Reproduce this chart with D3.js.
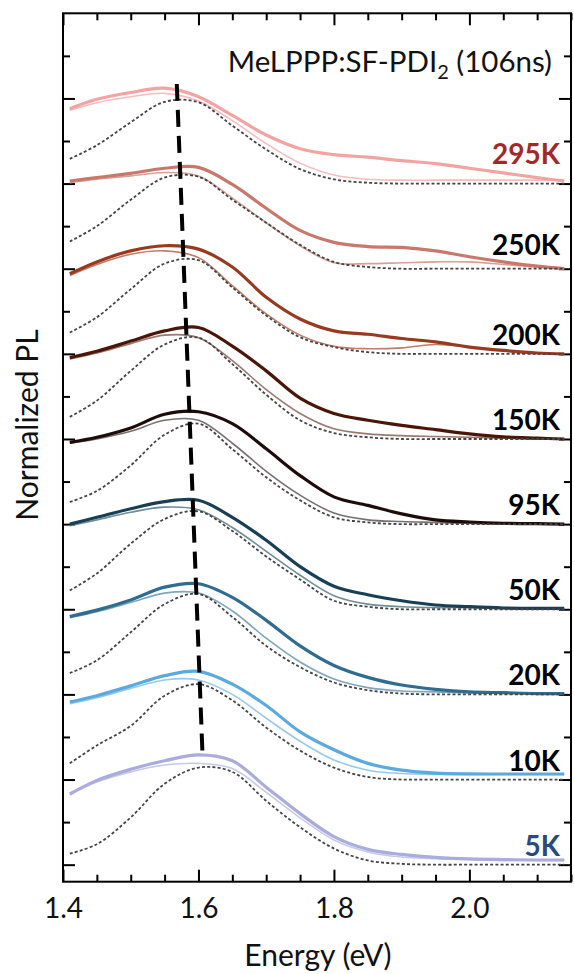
<!DOCTYPE html>
<html lang="en">
<head>
<meta charset="UTF-8">
<title>MeLPPP:SF-PDI2 normalized PL</title>
<script src="https://cdn.jsdelivr.net/npm/d3@7/dist/d3.min.js"></script>
<style>
    body { margin: 0; background: #fff; }
    svg { display: block; font-family: Lato, "Open Sans", sans-serif; }
</style>
</head>
<body>
<div id="chart"></div>
<script>
// energy grid (eV) that all spectra were read on
const energy = [1.41, 1.45, 1.50, 1.55, 1.60, 1.65, 1.70, 1.75, 1.80, 1.85, 1.90, 1.95, 2.00, 2.05, 2.10, 2.14];

// temperatures, top to bottom, and their vertical offsets
const temps = ["295K", "250K", "200K", "150K", "95K", "50K", "20K", "10K", "5K"];
const offsets = [8, 7, 6, 5, 4, 3, 2, 1, 0];

// thick measured spectra (relative to each baseline)
const plMain = [
    [0.88, 0.99, 1.07, 1.12, 1.02, 0.80, 0.57, 0.41, 0.34, 0.31, 0.27, 0.235, 0.18, 0.125, 0.07, 0.03],
    [1.03, 1.07, 1.12, 1.18, 1.19, 0.99, 0.71, 0.45, 0.31, 0.26, 0.25, 0.21, 0.14, 0.08, 0.03, 0.0],
    [0.94, 1.08, 1.21, 1.27, 1.23, 1.02, 0.665, 0.41, 0.27, 0.23, 0.18, 0.14, 0.08, 0.04, 0.01, 0.0],
    [0.955, 1.03, 1.15, 1.27, 1.31, 1.09, 0.80, 0.48, 0.30, 0.22, 0.16, 0.11, 0.06, 0.025, 0.01, 0.0],
    [0.96, 1.02, 1.13, 1.29, 1.32, 1.18, 0.885, 0.57, 0.32, 0.22, 0.12, 0.05, 0.025, 0.01, 0.005, 0.0],
    [1.0, 1.08, 1.18, 1.265, 1.28, 1.08, 0.81, 0.50, 0.27, 0.17, 0.10, 0.05, 0.03, 0.015, 0.01, 0.01],
    [0.915, 0.99, 1.11, 1.26, 1.30, 1.14, 0.87, 0.57, 0.34, 0.20, 0.11, 0.06, 0.03, 0.02, 0.01, 0.01],
    [0.91, 0.985, 1.10, 1.22, 1.27, 1.12, 0.87, 0.56, 0.35, 0.19, 0.11, 0.075, 0.066, 0.065, 0.065, 0.065],
    [0.83, 0.99, 1.12, 1.22, 1.29, 1.22, 0.91, 0.60, 0.33, 0.18, 0.12, 0.086, 0.067, 0.06, 0.055, 0.055]
];

// thin (lighter) measured spectra
const plThin = [
    [0.86, 0.95, 1.02, 1.06, 0.97, 0.74, 0.47, 0.24, 0.10, 0.05, 0.04, 0.04, 0.04, 0.04, 0.04, 0.04],
    [1.01, 1.05, 1.09, 1.13, 1.09, 0.83, 0.54, 0.27, 0.07, 0.06, 0.07, 0.08, 0.08, 0.05, 0.02, 0.0],
    [0.92, 1.05, 1.17, 1.21, 1.13, 0.80, 0.47, 0.22, 0.09, 0.06, 0.07, 0.11, 0.08, 0.04, 0.01, 0.0],
    [0.94, 1.01, 1.12, 1.22, 1.19, 0.92, 0.58, 0.30, 0.12, 0.06, 0.04, 0.03, 0.02, 0.01, 0.0, 0.0],
    [0.95, 1.0, 1.09, 1.22, 1.22, 0.95, 0.62, 0.34, 0.13, 0.05, 0.03, 0.02, 0.01, 0.0, 0.0, 0.0],
    [0.98, 1.05, 1.14, 1.20, 1.17, 0.96, 0.68, 0.40, 0.16, 0.06, 0.03, 0.02, 0.02, 0.01, 0.01, 0.01],
    [0.90, 0.97, 1.08, 1.19, 1.19, 0.98, 0.66, 0.38, 0.18, 0.08, 0.04, 0.03, 0.02, 0.02, 0.01, 0.01],
    [0.89, 0.96, 1.07, 1.17, 1.17, 1.0, 0.72, 0.45, 0.23, 0.11, 0.07, 0.06, 0.06, 0.06, 0.06, 0.06],
    [0.82, 0.97, 1.09, 1.17, 1.19, 1.13, 0.85, 0.55, 0.29, 0.15, 0.09, 0.07, 0.06, 0.05, 0.05, 0.05]
];

// dotted fits
const plFit = [
    [0.29, 0.45, 0.72, 0.96, 0.955, 0.68, 0.40, 0.17, 0.05, 0.01, 0, 0, 0, 0, 0, 0],
    [0.32, 0.50, 0.81, 1.07, 1.08, 0.81, 0.54, 0.28, 0.08, 0.02, 0, 0, 0, 0, 0, 0],
    [0.25, 0.43, 0.76, 1.06, 1.10, 0.78, 0.45, 0.195, 0.08, 0.02, 0, 0, 0, 0, 0, 0],
    [0.26, 0.45, 0.80, 1.11, 1.19, 0.88, 0.52, 0.22, 0.07, 0.02, 0, 0, 0, 0, 0, 0],
    [0.26, 0.39, 0.69, 1.05, 1.18, 0.88, 0.55, 0.28, 0.08, 0.02, 0, 0, 0, 0, 0, 0],
    [0.22, 0.42, 0.77, 1.06, 1.15, 0.92, 0.62, 0.35, 0.10, 0.03, 0, 0, 0, 0, 0, 0],
    [0.25, 0.40, 0.73, 1.06, 1.18, 0.91, 0.57, 0.32, 0.14, 0.05, 0.01, 0, 0, 0, 0, 0],
    [0.19, 0.40, 0.63, 0.985, 1.12, 0.93, 0.61, 0.34, 0.14, 0.03, 0, 0, 0, 0, 0, 0],
    [0.13, 0.24, 0.555, 0.95, 1.14, 1.09, 0.75, 0.44, 0.19, 0.05, 0.01, 0, 0, 0, 0, 0]
];

// peak-shift guide (dashed)
const guideE = [1.568, 1.606];
const guideV = [9.17, 1.29];

const mainColors = ["#f4a3a3", "#c8776b", "#973a20", "#4a1608", "#1e0c0a", "#183f55", "#2e6d8f", "#5aa9df", "#a9acdc"];
const thinColors = ["#f7bcbc", "#d9a096", "#c07c68", "#9a7870", "#777070", "#6f8c98", "#7fa6ba", "#97c9ec", "#c7c9ea"];
const labelColors = ["#a3282a", "#000", "#000", "#000", "#000", "#000", "#000", "#000", "#2b4a7a"];
const labelRaise = [20, 14, 9, 9, 9, 9, 9, 9, 9];

const xMajor = [1.4, 1.6, 1.8, 2.0];

const width = 574, height = 974;
const margin = { top: 13.3, right: 3, bottom: 92.3, left: 63 };

const svg = d3.select("#chart").append("svg")
    .attr("width", width)
    .attr("height", height);

const x = d3.scaleLinear()
    .domain([1.4, 2.15])
    .range([margin.left, width - margin.right]);
const y = d3.scaleLinear()
    .domain([-0.2, 10])
    .range([height - margin.bottom, margin.top]);

const xMinor = d3.range(1.4, 2.151, 0.05).filter(v => !xMajor.some(m => Math.abs(m - v) < 1e-6));
const yMajor = d3.range(0, 10, 1);
const yMinor = d3.range(0.5, 10, 1);

// ticks on all four sides, pointing inwards
function addAxis(axis, transform) {
    const g = svg.append("g").attr("transform", transform).call(axis);
    g.select(".domain").remove();
    g.selectAll(".tick line").attr("stroke", "#000").attr("stroke-width", 2);
    return g;
}

const bottom = addAxis(d3.axisBottom(x).tickValues(xMajor).tickSize(-12).tickPadding(16).tickFormat(d3.format(".1f")),
    `translate(0, ${y(-0.2)})`);
bottom.selectAll("text").attr("font-size", 28).attr("fill", "#111").attr("font-family", "Lato");
addAxis(d3.axisBottom(x).tickValues(xMinor).tickSize(-7).tickFormat(""), `translate(0, ${y(-0.2)})`);
addAxis(d3.axisTop(x).tickValues(xMajor).tickSize(-12).tickFormat(""), `translate(0, ${y(10)})`);
addAxis(d3.axisTop(x).tickValues(xMinor).tickSize(-7).tickFormat(""), `translate(0, ${y(10)})`);
addAxis(d3.axisLeft(y).tickValues(yMajor).tickSize(-12).tickFormat(""), `translate(${x(1.4)}, 0)`);
addAxis(d3.axisLeft(y).tickValues(yMinor).tickSize(-7).tickFormat(""), `translate(${x(1.4)}, 0)`);
addAxis(d3.axisRight(y).tickValues(yMajor).tickSize(-12).tickFormat(""), `translate(${x(2.15)}, 0)`);
addAxis(d3.axisRight(y).tickValues(yMinor).tickSize(-7).tickFormat(""), `translate(${x(2.15)}, 0)`);

// curves
const line = offset => d3.line()
    .x((d, i) => x(energy[i]))
    .y(d => y(offset + d))
    .curve(d3.curveCatmullRom.alpha(0.5));

temps.forEach((t, k) => {
    const gen = line(offsets[k]);
    svg.append("path")
        .attr("d", gen(plThin[k]))
        .attr("fill", "none")
        .attr("stroke", thinColors[k])
        .attr("stroke-width", 1.6);
    svg.append("path")
        .attr("d", gen(plMain[k]))
        .attr("fill", "none")
        .attr("stroke", mainColors[k])
        .attr("stroke-width", 3.2);
    svg.append("path")
        .attr("d", gen(plFit[k]))
        .attr("fill", "none")
        .attr("stroke", "#444")
        .attr("stroke-width", 1.8)
        .attr("stroke-dasharray", "3,2.2");

    svg.append("text")
        .attr("x", 560)
        .attr("y", y(offsets[k]) - labelRaise[k])
        .attr("text-anchor", "end")
        .attr("font-size", 28)
        .attr("font-weight", "bold")
        .attr("fill", labelColors[k])
        .text(t);
});

// dashed peak guide
svg.append("path")
    .attr("d", d3.line().x((d, i) => x(guideE[i])).y(d => y(d))(guideV))
    .attr("fill", "none")
    .attr("stroke", "#000")
    .attr("stroke-width", 4)
    .attr("stroke-dasharray", "17,9");

// frame
svg.append("rect")
    .attr("x", x(1.4))
    .attr("y", y(10))
    .attr("width", x(2.15) - x(1.4))
    .attr("height", y(-0.2) - y(10))
    .attr("fill", "none")
    .attr("stroke", "#000")
    .attr("stroke-width", 2);

// title
const title = svg.append("text")
    .attr("x", 552)
    .attr("y", 71.7)
    .attr("text-anchor", "end")
    .attr("font-size", 29.5)
    .attr("fill", "#111");
title.append("tspan").text("MeLPPP:SF-PDI");
title.append("tspan").attr("font-size", 20).attr("dy", 7).text("2");
title.append("tspan").attr("dy", -7).text(" (106ns)");

// axis labels
svg.append("text")
    .attr("x", 318)
    .attr("y", 966)
    .attr("text-anchor", "middle")
    .attr("font-size", 30)
    .attr("fill", "#111")
    .text("Energy (eV)");

svg.append("text")
    .attr("transform", "rotate(-90)")
    .attr("x", -425)
    .attr("y", 38)
    .attr("text-anchor", "middle")
    .attr("font-size", 30)
    .attr("fill", "#111")
    .text("Normalized PL");
</script>
</body>
</html>
